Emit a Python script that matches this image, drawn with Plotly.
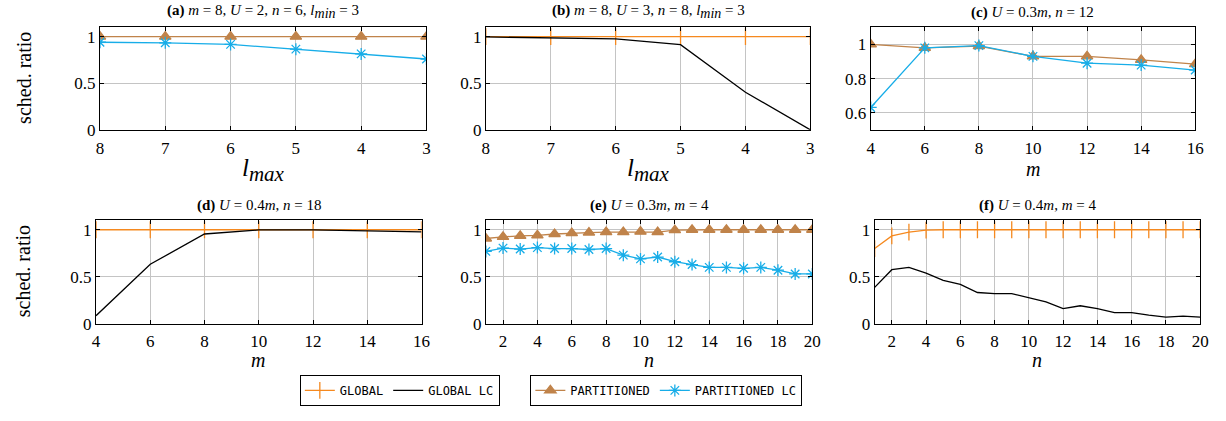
import plotly.graph_objects as go

# ---------------- data ----------------
lmax = [8, 7, 6, 5, 4, 3]
a_part = [1, 1, 1, 1, 1, 1]
a_part_lc = [0.94, 0.934, 0.917, 0.866, 0.815, 0.76]

b_glob = [1, 1, 1, 1, 1, 1]
b_glob_lc = [0.997, 0.985, 0.976, 0.914, 0.403, 0.0]

m_vals = [4, 6, 8, 10, 12, 14, 16]
c_part = [1.0, 0.98, 0.99, 0.93, 0.93, 0.91, 0.885]
c_part_lc = [0.631, 0.98, 0.993, 0.93, 0.89, 0.879, 0.85]

d_glob = [1, 1, 1, 1, 1, 1, 1]
d_glob_lc = [0.086, 0.633, 0.955, 0.998, 0.998, 0.99, 0.977]

n_vals = list(range(1, 21))
e_part = [0.907, 0.925, 0.935, 0.94, 0.955, 0.965, 0.97, 0.975, 0.975, 0.98,
          0.975, 0.995, 1.0, 1.0, 1.0, 1.0, 1.0, 1.0, 1.0, 1.0]
e_part_lc = [0.77, 0.805, 0.795, 0.81, 0.80, 0.80, 0.79, 0.80, 0.73, 0.69,
             0.71, 0.66, 0.63, 0.60, 0.60, 0.59, 0.60, 0.57, 0.53, 0.53]

f_glob = [0.80, 0.934, 0.975, 0.995, 1, 1, 1, 1, 1, 1,
          1, 1, 1, 1, 1, 1, 1, 1, 1, 1]
f_glob_lc = [0.387, 0.575, 0.60, 0.538, 0.462, 0.42, 0.333, 0.322, 0.322, 0.281,
             0.233, 0.161, 0.192, 0.161, 0.12, 0.12, 0.092, 0.072, 0.082, 0.072]

SUBMIN = "<sub><span style='font-size:14px'>min</span></sub>"
titles = [
    "<b>(a)</b> <i>m</i> = 8, <i>U</i> = 2, <i>n</i> = 6, <i>l" + SUBMIN + "</i> = 3",
    "<b>(b)</b> <i>m</i> = 8, <i>U</i> = 3, <i>n</i> = 8, <i>l" + SUBMIN + "</i> = 3",
    "<b>(c)</b> <i>U</i> = 0.3<i>m</i>, <i>n</i> = 12",
    "<b>(d)</b> <i>U</i> = 0.4<i>m</i>, <i>n</i> = 18",
    "<b>(e)</b> <i>U</i> = 0.3<i>m</i>, <i>m</i> = 4",
    "<b>(f)</b> <i>U</i> = 0.4<i>m</i>, <i>m</i> = 4",
]

# ---------------- style ----------------
ORANGE = "#F5891F"
BROWN = "#C0834A"
CYAN = "#17ADE8"
BLACK = "#000000"
SERIF = "Liberation Serif, DejaVu Serif, serif"
MONO = "DejaVu Sans Mono, Liberation Mono, monospace"

W, H = 1226, 421

def px_x(p):
    return p / W

def px_y(p):
    return 1 - p / H

# panel pixel boxes: left, right, top, bottom
boxes = [
    (97, 427, 28, 133),
    (487, 815, 28, 133),
    (876, 1204, 28, 133),
    (93, 422, 225.7, 331.7),
    (487, 817, 225.7, 331.7),
    (880, 1209, 225.7, 331.7),
]

fig = go.Figure()

def add(ax, x, y, name, color, marker, msize, show, legend, width=1.3):
    fig.add_trace(go.Scatter(
        x=x, y=y, name=name, mode="lines+markers" if marker else "lines",
        line=dict(color=color, width=width),
        marker=dict(symbol=marker or "circle", size=msize, color=color,
                    line=dict(color=color, width=1.3)),
        xaxis="x" + ("" if ax == 1 else str(ax)),
        yaxis="y" + ("" if ax == 1 else str(ax)),
        showlegend=show, legend=legend, legendgroup=name,
    ))

# (a)
add(1, lmax, a_part, "PARTITIONED", BROWN, "triangle-up", 10, True, "legend2")
add(1, lmax, a_part_lc, "PARTITIONED LC", CYAN, "asterisk-open", 10, True, "legend2")
# (b)
add(2, lmax, b_glob, "GLOBAL", ORANGE, "line-ns-open", 12, True, "legend")
add(2, lmax, b_glob_lc, "GLOBAL LC", BLACK, None, 0, True, "legend")
# (c)
add(3, m_vals, c_part, "PARTITIONED", BROWN, "triangle-up", 10, False, "legend2")
add(3, m_vals, c_part_lc, "PARTITIONED LC", CYAN, "asterisk-open", 10, False, "legend2")
# (d)
add(4, m_vals, d_glob, "GLOBAL", ORANGE, "line-ns-open", 12, False, "legend")
add(4, m_vals, d_glob_lc, "GLOBAL LC", BLACK, None, 0, False, "legend")
# (e)
add(5, n_vals, e_part, "PARTITIONED", BROWN, "triangle-up", 10, False, "legend2")
add(5, n_vals, e_part_lc, "PARTITIONED LC", CYAN, "asterisk-open", 10, False, "legend2")
# (f)
add(6, n_vals, f_glob, "GLOBAL", ORANGE, "line-ns-open", 12, False, "legend")
add(6, n_vals, f_glob_lc, "GLOBAL LC", BLACK, None, 0, False, "legend")

axis_common = dict(
    showline=True, linecolor="black", linewidth=1, mirror="ticks",
    ticks="inside", ticklen=4, tickcolor="black", tickwidth=1,
    showgrid=True, gridcolor="#c4c4c4", gridwidth=1, zeroline=False,
    tickfont=dict(family=SERIF, size=17, color="black"),
)

xranges = [[8, 3], [8, 3], [4, 16], [4, 16], [1, 20], [1, 20]]
xticks = [lmax, lmax, m_vals, m_vals, list(range(2, 21, 2)), list(range(2, 21, 2))]
yranges = [[0, 1.1], [0, 1.1], [0.5, 1.1], [0, 1.1], [0, 1.1], [0, 1.1]]
yticks = [[0, 0.5, 1], [0, 0.5, 1], [0.6, 0.8, 1], [0, 0.5, 1], [0, 0.5, 1], [0, 0.5, 1]]
yticktext = [["0", "0.5", "1"], ["0", "0.5", "1"], ["0.6", "0.8", "1"],
             ["0", "0.5", "1"], ["0", "0.5", "1"], ["0", "0.5", "1"]]
xstandoff = [3, 3, 3, 2, 2, 2]

layout = {}
for i, (l, r, t, b) in enumerate(boxes):
    k = "" if i == 0 else str(i + 1)
    layout["xaxis" + k] = dict(axis_common, domain=[px_x(l), px_x(r)],
                               range=xranges[i], tickvals=xticks[i],
                               anchor="y" + k, ticklabelstandoff=xstandoff[i])
    layout["yaxis" + k] = dict(axis_common, domain=[px_y(b), px_y(t)],
                               range=yranges[i], tickvals=yticks[i],
                               ticktext=yticktext[i], anchor="x" + k)

annotations = []
for i, (l, r, t, b) in enumerate(boxes):
    annotations.append(dict(
        text=titles[i], x=px_x((l + r) / 2), y=px_y(t - 4), xref="paper", yref="paper",
        xanchor="center", yanchor="bottom", showarrow=False,
        font=dict(family=SERIF, size=15, color="black")))

LMAX = "<i>l<sub><span style='font-size:21px'>max</span></sub></i>"
xlabels = [
    (LMAX, 262, 174, 25),
    (LMAX, 651, 174, 25),
    ("<i>m</i>", 1040, 173, 20),
    ("<i>m</i>", 257, 369, 20),
    ("<i>n</i>", 652, 369, 20),
    ("<i>n</i>", 1044, 369, 20),
]
for txt, cx, cy, fs in xlabels:
    annotations.append(dict(
        text=txt, x=px_x(cx), y=px_y(cy), xref="paper", yref="paper",
        xanchor="center", yanchor="middle", showarrow=False,
        font=dict(family=SERIF, size=fs, color="black")))

for cy in (80, 278):
    annotations.append(dict(
        text="sched. ratio", x=px_x(20), y=px_y(cy), xref="paper", yref="paper",
        xanchor="center", yanchor="middle", showarrow=False, textangle=-90,
        font=dict(family=SERIF, size=20, color="black")))

legend_common = dict(
    xanchor="left", yanchor="top", orientation="h",
    bordercolor="black", borderwidth=1, bgcolor="white",
    font=dict(family=MONO, size=12, color="black"),
    itemwidth=30, tracegroupgap=0,
)

fig.update_layout(
    **layout,
    width=W, height=H,
    margin=dict(l=0, r=0, t=0, b=0),
    paper_bgcolor="white", plot_bgcolor="white",
    annotations=annotations,
    legend=dict(legend_common, x=px_x(299), y=px_y(384)),
    legend2=dict(legend_common, x=px_x(532), y=px_y(384)),
)

fig.write_html("out.html", config={"displayModeBar": False},
               post_script="document.body.style.margin='0';")
